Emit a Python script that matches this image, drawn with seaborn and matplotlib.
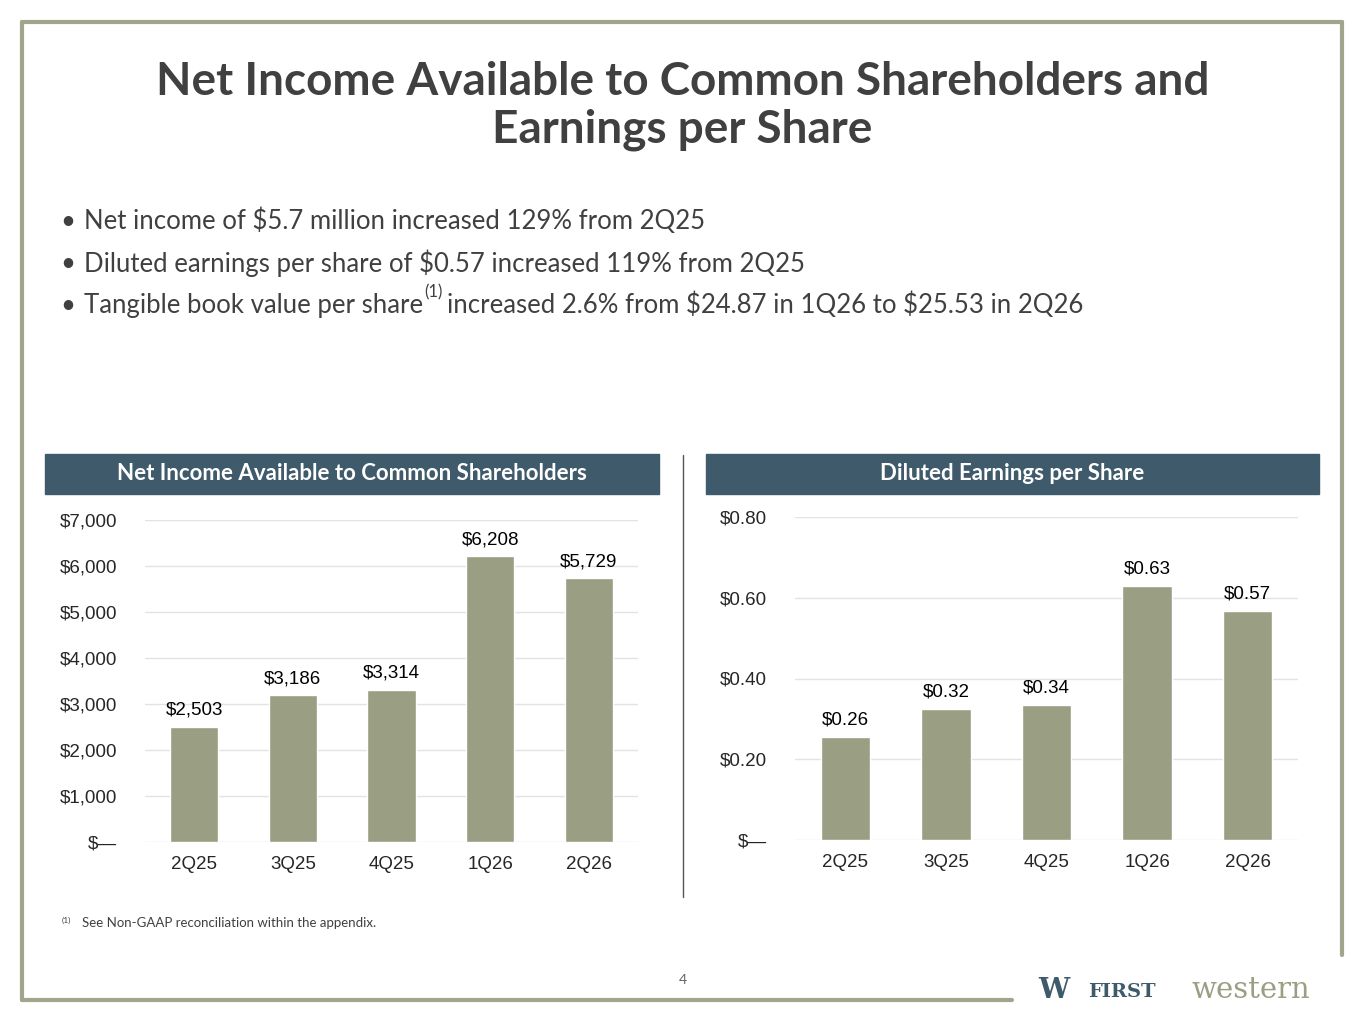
import matplotlib
matplotlib.use("Agg")
import matplotlib.pyplot as plt
import seaborn as sns
import pandas as pd
from matplotlib.patches import Rectangle
from matplotlib.lines import Line2D

quarters = ["2Q25", "3Q25", "4Q25", "1Q26", "2Q26"]
net_income = [2503, 3186, 3314, 6208, 5729]
eps = [0.255, 0.325, 0.335, 0.63, 0.567]
eps_labels = ["$0.26", "$0.32", "$0.34", "$0.63", "$0.57"]
ni_ticks = [0, 1000, 2000, 3000, 4000, 5000, 6000, 7000]
eps_ticks = [0, 0.2, 0.4, 0.6, 0.8]

sns.set_theme(style="white")
plt.rcParams['font.family'] = ['Lato', 'DejaVu Sans']

W, H = 1365, 1024
fig = plt.figure(figsize=(W / 100, H / 100), dpi=100)
BAR = "#9a9f84"
HEAD = "#3e5a6b"
TXT = "#404040"
FRAME = "#a2a58c"

def fx(x): return x / W
def fy(y): return 1 - y / H

# frame
for xs, ys in [([22, 1342], [22, 22]), ([22, 22], [22, 1000]), ([22, 1012], [1000, 1000]), ([1342, 1342], [22, 955])]:
    fig.add_artist(Line2D([fx(x) for x in xs], [fy(y) for y in ys], color=FRAME, lw=3))

fig.text(0.5, fy(82), "Net Income Available to Common Shareholders and", ha="center", va="center",
         fontsize=33, fontweight="bold", color=TXT)
fig.text(0.5, fy(130), "Earnings per Share", ha="center", va="center", fontsize=33, fontweight="bold", color=TXT)

bullets = ["Net income of $5.7 million increased 129% from 2Q25",
           "Diluted earnings per share of $0.57 increased 119% from 2Q25"]
for i, b in enumerate(bullets):
    y = fy(221 + 42 * i)
    fig.text(fx(60), y, "•", ha="left", va="center", fontsize=18.5, color=TXT)
    fig.text(fx(84), y, b, ha="left", va="center", fontsize=18.5, color=TXT)
y = fy(305)
fig.text(fx(60), y, "•", ha="left", va="center", fontsize=18.5, color=TXT)
t1 = fig.text(fx(84), y, "Tangible book value per share", ha="left", va="center", fontsize=18.5, color=TXT)
fig.canvas.draw()
bb = t1.get_window_extent()
t2 = fig.text(bb.x1 / W + 0.001, y + 0.012, "(1)", ha="left", va="center", fontsize=12, color=TXT)
bb2 = t2.get_window_extent()
fig.text(bb2.x1 / W + 0.003, y, r"increased 2.6% from \$24.87 in 1Q26 to \$25.53 in 2Q26", ha="left", va="center",
         fontsize=18.5, color=TXT)

# header boxes
for x0, x1, t in [(45, 659, "Net Income Available to Common Shareholders"), (706, 1319, "Diluted Earnings per Share")]:
    fig.add_artist(Rectangle((fx(x0), fy(494)), fx(x1 - x0), 40 / H, color=HEAD, transform=fig.transFigure))
    fig.text(fx((x0 + x1) / 2), fy(474), t, ha="center", va="center", fontsize=16, fontweight="bold", color="white")

fig.add_artist(Line2D([fx(683), fx(683)], [fy(455), fy(897)], color="#555555", lw=1))

df = pd.DataFrame({"q": quarters, "ni": net_income, "eps": eps})

def draw(rect, col, ylim, ticks, fmt, labels):
    ax = fig.add_axes(rect)
    sns.barplot(data=df, x="q", y=col, color=BAR, width=0.49, saturation=1, ax=ax)
    ax.set_ylim(*ylim)
    ax.set_yticks(ticks)
    ax.set_yticklabels([fmt(t) for t in ticks], fontfamily="Liberation Sans", fontsize=13.5)
    ax.set_xticklabels(quarters, fontfamily="Liberation Sans", fontsize=13.5)
    ax.tick_params(axis="x", pad=10, length=0)
    ax.tick_params(axis="y", pad=20, length=0)
    ax.set_xlabel(""); ax.set_ylabel("")
    ax.yaxis.grid(True, color="#e3e3e3", lw=1)
    ax.set_axisbelow(True)
    for s in ax.spines.values():
        s.set_visible(False)
    for i, (v, l) in enumerate(zip(df[col], labels)):
        ax.text(i, v + (ylim[1] * 0.025), l, ha="center", va="bottom", fontfamily="Liberation Sans",
                fontsize=13.5, color="black")
    ax.set_xlim(-0.5, 4.5)
    return ax

draw([fx(145), fy(842), fx(493), 322 / H], "ni", (0, 7000), ni_ticks,
     lambda t: "$—" if t == 0 else f"${t:,.0f}", [f"${v:,}" for v in net_income])
draw([fx(795), fy(840), fx(503), 323 / H], "eps", (0, 0.8), eps_ticks,
     lambda t: "$—" if t == 0 else f"${t:.2f}", eps_labels)

fig.text(fx(62), fy(920), "(1)", fontsize=6, color=TXT, va="center")
fig.text(fx(82), fy(923), "See Non-GAAP reconciliation within the appendix.", fontsize=9.5, color=TXT, va="center")
fig.text(fx(683), fy(980), "4", ha="center", va="center", fontsize=10, color="#666666")
fig.text(fx(1038), fy(991), "W", fontsize=20, fontweight="bold", color="#3e5a6b", va="center", fontfamily="DejaVu Serif")
fig.text(fx(1088), fy(992), "FIRST", fontsize=14, fontweight="bold", color="#3e5a6b", va="center", fontfamily="DejaVu Serif")
fig.text(fx(1192), fy(990), "western", fontsize=21, color="#9a9f84", va="center", fontfamily="DejaVu Serif")

fig.savefig("out.png", dpi=100, facecolor="white")
